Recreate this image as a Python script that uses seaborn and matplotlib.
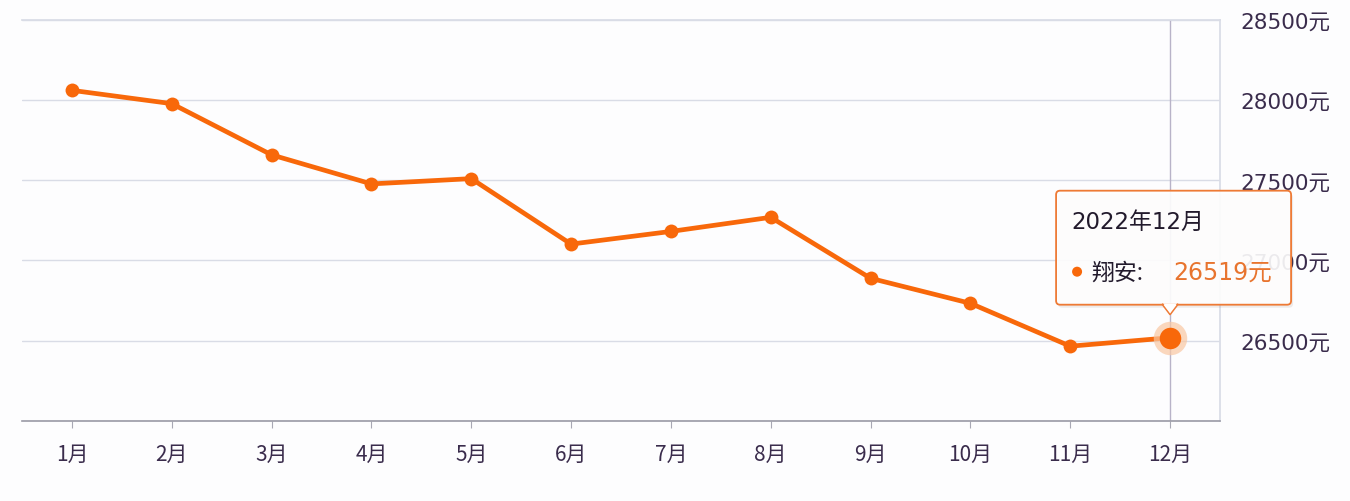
import matplotlib
matplotlib.use("Agg")
import matplotlib.pyplot as plt
import seaborn as sns
import pandas as pd
from matplotlib.patches import FancyBboxPatch, Polygon, Circle
from matplotlib.transforms import IdentityTransform

months = ["1月", "2月", "3月", "4月", "5月", "6月", "7月", "8月", "9月", "10月", "11月", "12月"]
prices = [28060, 27977, 27658, 27477, 27510, 27102, 27181, 27269, 26889, 26733, 26466, 26519]
y_ticks = [26000, 26500, 27000, 27500, 28000, 28500]
y_labels = ["", "26500元", "27000元", "27500元", "28000元", "28500元"]
series_name = "翔安"
tooltip_title = "2022年12月"

ORANGE = "#F8680A"
TEXT = "#3a2c4c"
GRID = "#d9dce6"

sns.set_theme(style="white")
plt.rcParams["font.family"] = ["DejaVu Sans", "Noto Sans CJK SC"]

df = pd.DataFrame({"idx": range(len(months)), "price": prices})

fig = plt.figure(figsize=(13.5, 5.02), dpi=100, facecolor="#fdfdfe")
ax = fig.add_axes([22 / 1350, 1 - 422 / 502, (1220 - 22) / 1350, (422 - 20.7) / 502])
ax.set_facecolor("#fdfdfe")

sns.lineplot(data=df, x="idx", y="price", ax=ax, color=ORANGE, linewidth=3.4,
             marker="o", markersize=10, markeredgewidth=0, zorder=5)

ax.set_xlim(-0.5, 11.5)
ax.set_ylim(26000, 28500)
ax.set_xticks(range(len(months)))
ax.set_xticklabels(months)
ax.set_yticks(y_ticks)
ax.set_yticklabels(y_labels)
ax.set_xlabel("")
ax.set_ylabel("")

ax.yaxis.tick_right()
ax.tick_params(axis="y", length=0, pad=15, labelsize=15.5, labelcolor=TEXT)
ax.tick_params(axis="x", direction="out", length=5, width=0.8, color="#a8a8b4",
               pad=11, labelsize=15, labelcolor=TEXT, bottom=True)
for t in ax.get_xticklabels():
    t.set_family(["Noto Sans CJK SC", "DejaVu Sans"])

ax.grid(axis="y", color=GRID, linewidth=1.0)
ax.set_axisbelow(True)
ax.spines["left"].set_visible(False)
ax.spines["top"].set_color(GRID)
ax.spines["right"].set_color(GRID)
ax.spines["bottom"].set_color("#9a9aa6")
ax.spines["bottom"].set_linewidth(1.2)

# crosshair at last point
last_i = len(months) - 1
ax.axvline(last_i, color="#b8b3c8", linewidth=1.0, zorder=2)

# highlighted last point with halo
ax.scatter([last_i], [prices[-1]], s=580, color="#F9C7A2", alpha=0.7, zorder=6, linewidths=0)
ax.scatter([last_i], [prices[-1]], s=240, color=ORANGE, zorder=7, linewidths=0)

# tooltip anchored to last point (display coords)
fig.canvas.draw()
px, py = ax.transData.transform((last_i, prices[-1]))
ident = IdentityTransform()
bx0, bx1 = px - 114, px + 121
by0, by1 = py + 33, py + 147
shadow = FancyBboxPatch((bx0 + 2, by0 - 3), bx1 - bx0, by1 - by0,
                        boxstyle="round,pad=0,rounding_size=4",
                        transform=ident, facecolor=(0.5, 0.4, 0.35, 0.12),
                        edgecolor="none", zorder=9)
fig.patches.append(shadow)
box = FancyBboxPatch((bx0, by0), bx1 - bx0, by1 - by0,
                     boxstyle="round,pad=0,rounding_size=4",
                     transform=ident, facecolor=(1, 1, 1, 0.9),
                     edgecolor="#EE7A35", linewidth=1.3, zorder=10)
fig.patches.append(box)
tri = Polygon([(px - 8, by0 + 0.5), (px + 8, by0 + 0.5), (px, by0 - 10)], closed=True,
              transform=ident, facecolor="white", edgecolor="#EE7A35", linewidth=1.1, zorder=11)
fig.patches.append(tri)
cover = Polygon([(px - 7, by0 + 1.5), (px + 7, by0 + 1.5), (px, by0 - 8)], closed=True,
                transform=ident, facecolor="white", edgecolor="none", zorder=12)
fig.patches.append(cover)

fig.text(px - 99, by1 - 31, tooltip_title, transform=ident, fontsize=16.5, color="#221a2c",
         va="center", ha="left", family=["DejaVu Sans", "Noto Sans CJK SC"], zorder=13)
dot = Circle((px - 93, by1 - 81), 5, transform=ident, facecolor=ORANGE, edgecolor="none", zorder=13)
fig.patches.append(dot)
fig.text(px - 79, by1 - 81, series_name + ":", transform=ident, fontsize=16.5, color="#221a2c",
         va="center", ha="left", family=["Noto Sans CJK SC", "DejaVu Sans"], zorder=13)
fig.text(px + 3, by1 - 81, f"{prices[-1]}元", transform=ident, fontsize=17, color="#E8742E",
         va="center", ha="left", family=["DejaVu Sans", "Noto Sans CJK SC"], zorder=13)

fig.savefig("out.png", dpi=100, facecolor=fig.get_facecolor())
